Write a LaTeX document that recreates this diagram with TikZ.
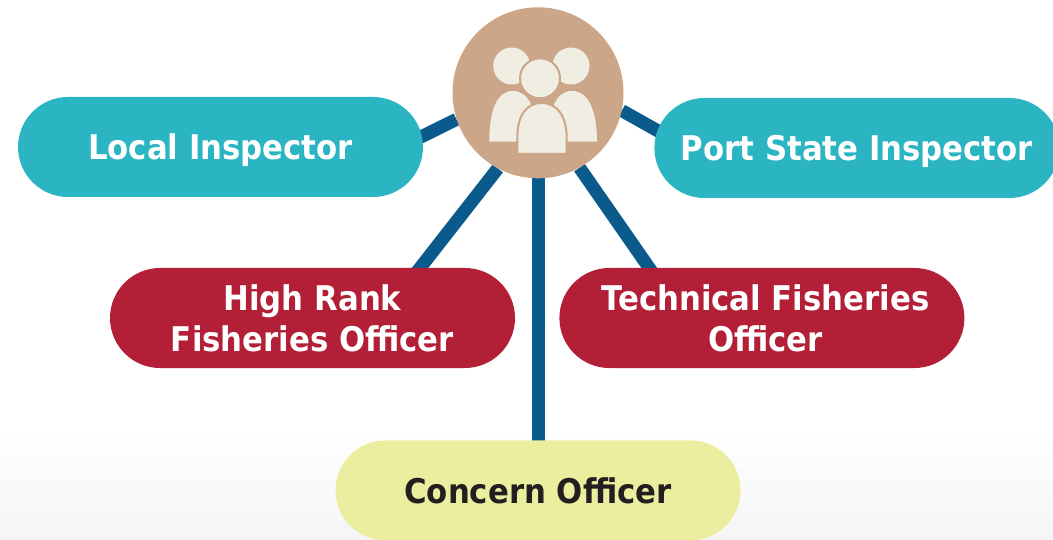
\documentclass[tikz,border=0pt]{standalone}
\usepackage{fontspec}
\setmainfont{DejaVu Sans}[FakeStretch=0.905]
\usetikzlibrary{positioning}
\usetikzlibrary{backgrounds}
\usetikzlibrary{shapes.misc}
\definecolor{tealpill}{HTML}{2BB5C3}
\definecolor{redpill}{HTML}{B31F37}
\definecolor{yellowpill}{HTML}{EBEE9F}
\definecolor{hubtan}{HTML}{CBA689}
\definecolor{iconcream}{HTML}{F0EEE2}
\definecolor{linkblue}{HTML}{0A5A8C}
\definecolor{darktext}{HTML}{231F20}
\begin{document}
\begin{tikzpicture}
    [x=1pt,y=-1pt,
    pill/.style={rounded rectangle,rounded rectangle arc length=180,
      inner sep=0pt,minimum width=405pt,minimum height=100pt,align=center,
      font=\fontsize{34}{41}\selectfont\bfseries},
    teal pill/.style={pill,fill=tealpill,text=white,text depth=0pt},
    red pill/.style={pill,fill=redpill,text=white},
    yellow pill/.style={pill,fill=yellowpill,text=darktext},
    hub/.style={circle,fill=hubtan,inner sep=0pt,minimum size=171pt},
    link/.style={draw=linkblue,line width=13pt,shorten >=-5pt},
    figure/.style={fill=iconcream},
    front figure/.style={fill=iconcream,draw=hubtan,line width=2pt}]

    \useasboundingbox (0,0) rectangle (1053,540);

    \node[hub]        (hub)       at (538,92.8)           {};

    \node[teal pill]  (local)     at (220.5,147)          {Local Inspector};

    \node[teal pill]  (port)      [right=231pt of local,yshift=-1pt]  {Port State Inspector};

    \node[red pill]   (high)      at (312.5,318)          {High Rank\\Fisheries Officer};

    \node[red pill]   (technical) [right=44pt of high]    {\hspace*{7pt}Technical Fisheries\\\hspace*{7pt}Officer};

    \node[yellow pill] (concern)  [below=261.7pt of hub]  {Concern Officer};

    \begin{pgfonlayer}{background}
      \shade[top color=white,bottom color=black!4] (0,430) rectangle (1053,540);
      \draw[link] (hub.198) -- (local.3);
      \draw[link] (hub.-118) -- (high.25);
      \draw[link] (hub.south) -- (concern.north);
      \draw[link] (hub.-61) -- (technical.156);
      \draw[link] (hub.-12) -- (port.175);
    \end{pgfonlayer}

    % the people inside the hub
    \fill[figure] (511.7,66) circle (18.5);
    \fill[figure] (571,66) circle (18.5);
    \fill[figure] (489.3,141.7) .. controls (489.3,110) and (497,91) .. (513,91)
      .. controls (529,91) and (537,110) .. (537,141.7) -- cycle;
    \fill[figure] (597,141.7) .. controls (597,110) and (588,91) .. (572,91)
      .. controls (556,91) and (548,110) .. (548,141.7) -- cycle;
    \filldraw[front figure] (540,78.3) circle (20);
    \filldraw[front figure] (517.3,154) -- (517.3,138) .. controls (517.3,116) and (526,103) .. (541.5,103)
      .. controls (557,103) and (566.7,116) .. (566.7,138) -- (566.7,154) -- cycle;

  \end{tikzpicture}
\end{document}
